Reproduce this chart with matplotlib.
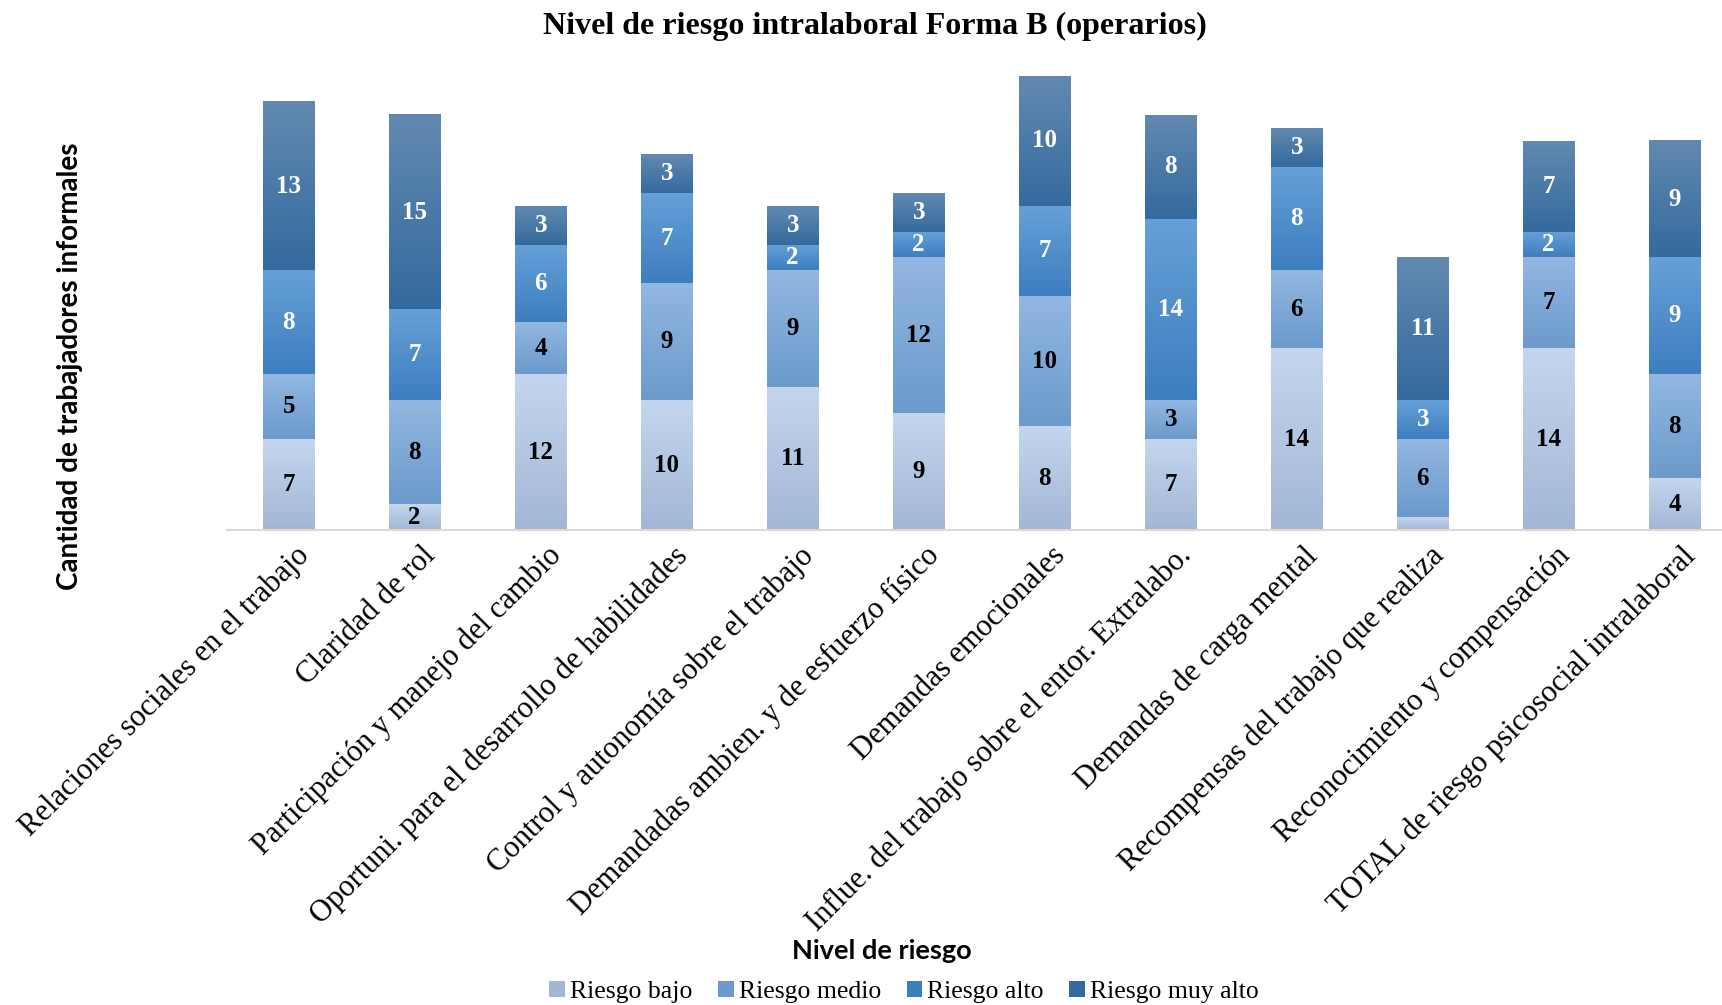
import matplotlib
matplotlib.use('Agg')
import matplotlib.pyplot as plt
import matplotlib.transforms as mtransforms
import numpy as np
from matplotlib.colors import LinearSegmentedColormap
from matplotlib.patches import Patch

categorias = ['Relaciones sociales en el trabajo', 'Claridad de rol',
              'Participación y manejo del cambio',
              'Oportuni. para el desarrollo de habilidades',
              'Control y autonomía sobre el trabajo',
              'Demandadas ambien. y de esfuerzo físico',
              'Demandas emocionales',
              'Influe. del trabajo sobre el entor. Extralabo.',
              'Demandas de carga mental',
              'Recompensas del trabajo que realiza',
              'Reconocimiento y compensación',
              'TOTAL de riesgo psicosocial intralaboral']

riesgo_bajo = [7, 2, 12, 10, 11, 9, 8, 7, 14, 1, 14, 4]
riesgo_medio = [5, 8, 4, 9, 9, 12, 10, 3, 6, 6, 7, 8]
riesgo_alto = [8, 7, 6, 7, 2, 2, 7, 14, 8, 3, 2, 9]
riesgo_muy_alto = [13, 15, 3, 3, 3, 3, 10, 8, 3, 11, 7, 9]

series = [('Riesgo bajo', riesgo_bajo), ('Riesgo medio', riesgo_medio),
          ('Riesgo alto', riesgo_alto), ('Riesgo muy alto', riesgo_muy_alto)]

# colores del degradado (arriba, abajo) y color de la etiqueta
colores = [('#c4d6ee', '#a2b7d6', 'black'),
           ('#92b7e2', '#6b9acb', 'black'),
           ('#66a0d8', '#3d7ebf', 'white'),
           ('#6289b1', '#346a9e', 'white')]

serif = ['Liberation Serif', 'DejaVu Serif']
sans = ['Lato', 'DejaVu Sans']

fig = plt.figure(figsize=(17.22, 10.05), dpi=100)
ax = fig.add_axes([227 / 1722, 0.4726, 1 - 227 / 1722, 0.452])

x = np.arange(len(categorias))
ancho = 0.41
base = np.zeros(len(categorias))
grad = np.linspace(0, 1, 256).reshape(-1, 1)

for (nombre, valores), (c_top, c_bot, c_txt) in zip(series, colores):
    valores = np.array(valores)
    barras = ax.bar(x, valores, ancho, bottom=base, color='none', zorder=2)
    cmap = LinearSegmentedColormap.from_list(nombre, [c_bot, c_top])
    for b, v in zip(barras, valores):
        x0, y0 = b.get_x(), b.get_y()
        ax.imshow(grad, cmap=cmap, origin='lower', aspect='auto', zorder=2,
                  extent=(x0, x0 + b.get_width(), y0, y0 + b.get_height()))
        if v >= 2:
            ax.text(x0 + b.get_width() / 2, y0 + v / 2, str(v), ha='center',
                    va='center', color=c_txt, fontsize=18, fontweight='bold',
                    family=serif, zorder=3)
    base = base + valores

ax.set_xlim(-0.49, 11.375)
ax.set_ylim(0, 35)
ax.set_yticks([])
ax.set_xticks(x)
ax.set_xticklabels(categorias, rotation=45, ha='right', va='top',
                   rotation_mode='anchor', fontsize=22, family=serif)
ax.tick_params(axis='x', length=0, pad=8)
desplaza = mtransforms.ScaledTranslation(6 / 100, 0, fig.dpi_scale_trans)
for lbl in ax.get_xticklabels():
    lbl.set_transform(lbl.get_transform() + desplaza)
for s in ['top', 'right', 'left']:
    ax.spines[s].set_visible(False)
ax.spines['bottom'].set_color('#d9d9d9')
ax.spines['bottom'].set_linewidth(1.5)

fig.text(875 / 1722, 1 - 26 / 1005, 'Nivel de riesgo intralaboral Forma B (operarios)',
         ha='center', va='center', fontsize=23, fontweight='bold', family=serif)
fig.text(70 / 1722, 0.636, 'Cantidad de trabajadores informales', rotation=90,
         ha='center', va='center', fontsize=20, fontweight='bold', family=sans)
fig.text(882 / 1722, 1 - 951 / 1005, 'Nivel de riesgo', ha='center', va='center',
         fontsize=19.5, fontweight='bold', family=sans)

handles = [Patch(facecolor=c[1], edgecolor='none') for c in colores]
fig.legend(handles, [s[0] for s in series], loc='center', ncol=4,
           bbox_to_anchor=(0.525, 0.013), frameon=False,
           prop={'family': serif, 'size': 18.5}, handlelength=0.6,
           handleheight=0.6, handletextpad=0.2, columnspacing=1.0)

fig.savefig('out.png', dpi=100)
